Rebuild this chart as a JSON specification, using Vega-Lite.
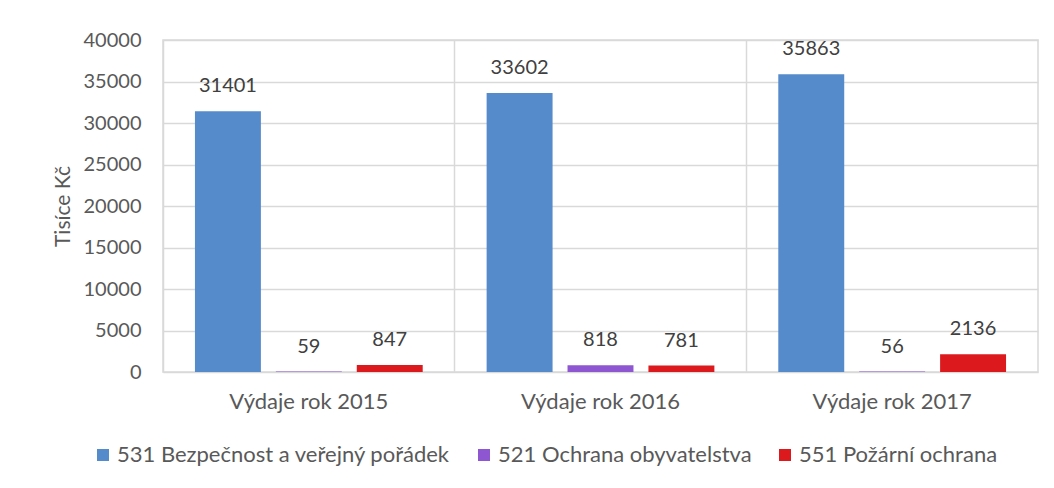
{
  "$schema": "https://vega.github.io/schema/vega-lite/v6.json",
  "autosize": "none",
  "width": 875,
  "height": 332,
  "padding": {"left": 163, "top": 40, "right": 16, "bottom": 116},
  "background": "white",
  "config": {
    "font": "Lato",
    "view": {"stroke": "#d9d9d9", "strokeWidth": 1.5},
    "axis": {"labelFont": "Lato", "titleFont": "Lato", "labelColor": "#595959", "titleColor": "#595959"},
    "axisY": {"titleFontSize": 21, "titleFontWeight": "normal"}
  },
  "data": {
    "values": [
      {"rok": "Výdaje rok 2015", "serie": "531 Bezpečnost a veřejný pořádek", "hodnota": 31401},
      {"rok": "Výdaje rok 2015", "serie": "521 Ochrana obyvatelstva", "hodnota": 59},
      {"rok": "Výdaje rok 2015", "serie": "551 Požární ochrana", "hodnota": 847},
      {"rok": "Výdaje rok 2016", "serie": "531 Bezpečnost a veřejný pořádek", "hodnota": 33602},
      {"rok": "Výdaje rok 2016", "serie": "521 Ochrana obyvatelstva", "hodnota": 818},
      {"rok": "Výdaje rok 2016", "serie": "551 Požární ochrana", "hodnota": 781},
      {"rok": "Výdaje rok 2017", "serie": "531 Bezpečnost a veřejný pořádek", "hodnota": 35863},
      {"rok": "Výdaje rok 2017", "serie": "521 Ochrana obyvatelstva", "hodnota": 56},
      {"rok": "Výdaje rok 2017", "serie": "551 Požární ochrana", "hodnota": 2136}
    ]
  },
  "encoding": {
    "x": {
      "field": "rok", "type": "nominal",
      "scale": {"paddingInner": 0, "paddingOuter": 0},
      "axis": {
        "title": null, "labelAngle": 0, "labelFontSize": 22, "labelPadding": 19,
        "ticks": false, "domain": false, "grid": true, "gridColor": "#d9d9d9", "gridWidth": 1.5,
        "bandPosition": 0
      }
    },
    "xOffset": {
      "field": "serie", "type": "nominal",
      "sort": ["531 Bezpečnost a veřejný pořádek", "521 Ochrana obyvatelstva", "551 Požární ochrana"],
      "scale": {"paddingInner": 0.185, "paddingOuter": 0.395}
    },
    "y": {
      "field": "hodnota", "type": "quantitative",
      "scale": {"domain": [0, 40000]},
      "axis": {
        "title": "Tisíce Kč", "titleFontSize": 21, "titleFontWeight": "normal", "titlePadding": 10,
        "values": [0, 5000, 10000, 15000, 20000, 25000, 30000, 35000, 40000],
        "format": "d", "labelFontSize": 20, "labelPadding": 22,
        "ticks": false, "domain": false, "gridColor": "#d9d9d9", "gridWidth": 1.5
      }
    }
  },
  "layer": [
    {
      "mark": {"type": "bar"},
      "encoding": {
        "color": {
          "field": "serie", "type": "nominal",
          "sort": ["531 Bezpečnost a veřejný pořádek", "521 Ochrana obyvatelstva", "551 Požární ochrana"],
          "scale": {
            "domain": ["531 Bezpečnost a veřejný pořádek", "521 Ochrana obyvatelstva", "551 Požární ochrana"],
            "range": ["#558ACB", "#8E56D0", "#DC1A1E"]
          },
          "legend": {
            "title": null, "orient": "none", "direction": "horizontal",
            "legendX": -71, "legendY": 404,
            "labelFontSize": 22, "labelColor": "#595959", "labelFont": "Lato",
            "symbolType": "square", "symbolSize": 144, "symbolStrokeWidth": 0,
            "labelOffset": 3, "columnPadding": 22, "labelLimit": 500
          }
        }
      }
    },
    {
      "mark": {"type": "text", "baseline": "alphabetic", "dy": -19, "fontSize": 20, "color": "#404040", "font": "Lato"},
      "encoding": {
        "text": {"field": "hodnota", "type": "quantitative", "format": "d"}
      }
    }
  ]
}
